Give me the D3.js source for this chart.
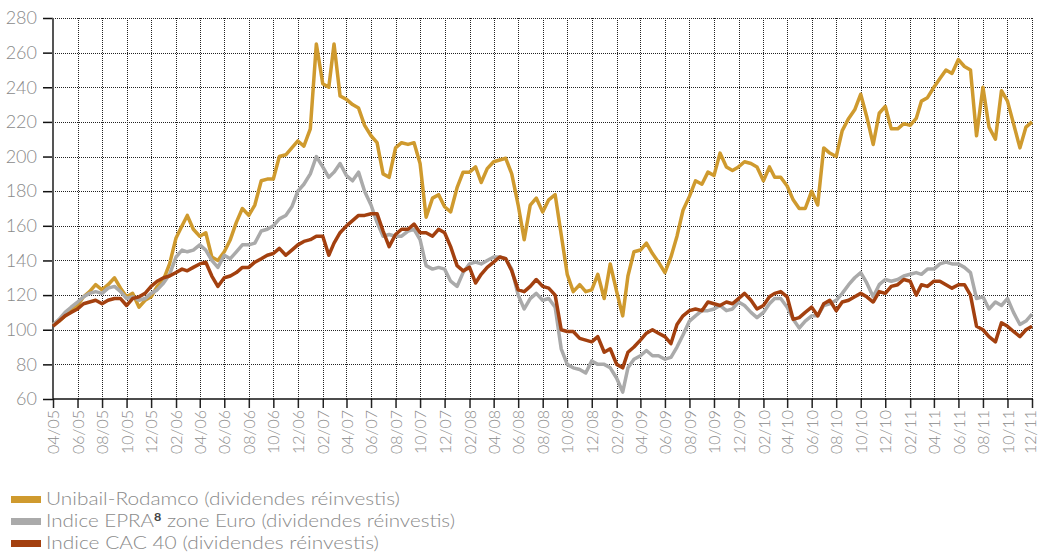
<!DOCTYPE html>
<html>
  <head>
    <meta charset="utf-8">
    <script src="https://d3js.org/d3.v7.min.js"></script>
    <style>
      body { margin: 0px; background: #fff; }
      .domain { display: none; }
      .tick text { fill: #8a8a8a; font-family: Lato, "DejaVu Sans", sans-serif; font-weight: 300; }
      .legend text { fill: #8a8a8a; font-family: Lato, "DejaVu Sans", sans-serif; font-weight: 300; font-size: 18px; }
    </style>
  </head>
  <body>
    <svg width="1038" height="553"></svg>
    <script>
      // half-month steps from 04/2005 to 12/2011
      const startMonth = new Date(2005, 3, 1);
      const endMonth = new Date(2011, 11, 1);
      const yTicks = [60, 80, 100, 120, 140, 160, 180, 200, 220, 240, 260, 280];

      const unibail = [
        103,105,108,111,114,119,122,126,123,126,130,124,119,121,113,117,119,125,129,138,153,160,166,158,154,156,142,140,145,152,162,170,
        166,172,186,187,187,200,201,205,209,206,216,265,242,240,265,235,233,230,228,218,212,208,190,188,205,208,207,208,196,165,176,
        178,171,168,182,191,191,194,185,193,197,198,199,190,172,152,172,176,168,175,178,155,132,122,126,122,123,132,118,138,122,108,
        131,145,146,150,144,139,133,142,154,169,177,186,184,191,189,202,194,192,194,197,196,194,186,194,188,188,183,175,170,170,180,
        172,205,202,200,215,222,227,236,223,207,225,229,216,216,219,218,222,232,234,240,245,250,248,256,252,250,212,240,217,210,238,232,219,205,217,220
      ];
      const epra = [
        103,106,110,113,116,119,121,122,121,124,125,122,118,119,117,118,121,123,127,132,142,146,145,146,149,146,140,136,143,141,145,149,
        149,150,157,158,160,164,166,171,180,184,190,200,194,188,191,196,189,186,191,180,172,162,154,155,154,154,157,158,152,137,135,
        136,135,128,125,133,138,139,138,140,142,142,141,135,120,112,118,121,117,118,113,89,80,78,77,75,82,80,80,78,72,64,
        78,83,85,88,85,85,83,84,90,97,105,108,111,111,112,114,111,112,116,114,110,107,110,115,118,118,113,106,101,105,108,
        108,114,115,117,121,126,130,133,127,119,126,129,128,129,131,132,133,132,135,135,138,139,138,138,136,133,118,119,112,116,114,118,110,103,105,109
      ];
      const cac = [
        102,105,108,110,112,115,116,117,115,117,118,118,114,118,119,121,125,128,130,131,133,135,134,136,138,139,131,125,130,131,133,136,
        136,139,141,143,144,147,143,146,149,151,152,154,154,143,150,156,160,163,166,166,167,167,157,148,155,158,158,161,156,156,154,
        158,156,148,137,134,136,127,132,136,139,142,141,134,123,122,125,129,125,124,120,100,99,99,95,94,93,96,87,89,80,78,
        87,90,94,98,100,98,96,92,103,108,111,112,111,116,115,114,116,115,118,121,117,112,114,119,121,122,119,106,107,110,113,
        108,115,117,111,116,117,119,121,119,116,122,121,125,126,129,128,120,126,125,128,128,126,124,126,126,120,102,100,96,93,104,102,99,96,100,102
      ];

      const seriesNames = [
        'Unibail-Rodamco (dividendes réinvestis)',
        'Indice EPRA',
        'Indice CAC 40 (dividendes réinvestis)'
      ];
      const seriesColors = ['#CF9A2E', '#AAAAAA', '#A3400F'];
      const seriesValues = [unibail, epra, cac];

      const dates = unibail.map((d, i) => new Date(2005, 3 + Math.floor(i / 2), i % 2 ? 16 : 1));

      const svg = d3.select('svg');
      const plotLeft = 53, plotRight = 1032, plotTop = 18, plotBottom = 399;

      const xScale = d3.scaleTime().domain([startMonth, endMonth]).range([plotLeft, plotRight]);
      const yScale = d3.scaleLinear().domain([60, 280]).range([plotBottom, plotTop]);

      const xTickDates = d3.timeMonth.range(startMonth, d3.timeMonth.offset(endMonth, 1), 2);

      // grid
      const grid = svg.append('g');
      grid.selectAll('.hgrid').data(yTicks.slice(1)).enter().append('line')
        .attr('x1', plotLeft).attr('x2', plotRight)
        .attr('y1', d => Math.round(yScale(d)) + 0.5).attr('y2', d => Math.round(yScale(d)) + 0.5)
        .attr('stroke', '#222').attr('stroke-dasharray', '1,1').attr('stroke-width', 1);
      grid.selectAll('.vgrid').data(xTickDates.slice(1)).enter().append('line')
        .attr('x1', d => Math.round(xScale(d)) + 0.5).attr('x2', d => Math.round(xScale(d)) + 0.5)
        .attr('y1', plotTop).attr('y2', plotBottom)
        .attr('stroke', '#222').attr('stroke-dasharray', '1,1').attr('stroke-width', 1);

      // axes
      const yAxis = d3.axisLeft(yScale).tickValues(yTicks).tickSize(10).tickPadding(6);
      const yAxisG = svg.append('g').attr('transform', `translate(${plotLeft},0)`).call(yAxis);
      yAxisG.selectAll('.tick line').attr('stroke', '#111').attr('stroke-width', 1.5);
      yAxisG.selectAll('.tick text').style('font-size', '18px');
      svg.append('line').attr('x1', plotLeft).attr('x2', plotLeft).attr('y1', plotTop).attr('y2', plotBottom)
        .attr('stroke', '#555').attr('stroke-width', 2);

      const xAxis = d3.axisBottom(xScale).tickValues(xTickDates).tickFormat(d3.timeFormat('%m/%y'))
        .tickSize(9).tickPadding(6);
      const xAxisG = svg.append('g').attr('transform', `translate(0,${plotBottom})`).call(xAxis);
      xAxisG.selectAll('.tick line').attr('stroke', '#222').attr('stroke-width', 1.5);
      xAxisG.selectAll('.tick text')
        .style('font-size', '16px')
        .attr('text-anchor', 'end')
        .attr('transform', 'rotate(-90)')
        .attr('textLength', 44).attr('lengthAdjust', 'spacingAndGlyphs')
        .attr('x', -11).attr('y', 0).attr('dy', (d, i) => i === xTickDates.length - 1 ? '0.2em' : '0.35em');
      svg.append('line').attr('x1', plotLeft).attr('x2', plotRight + 1).attr('y1', plotBottom).attr('y2', plotBottom)
        .attr('stroke', '#111').attr('stroke-width', 1.5);

      // lines
      const line = d3.line().x((d, i) => xScale(dates[i])).y(d => yScale(d));
      seriesValues.forEach((vals, k) => {
        svg.append('path').datum(vals)
          .attr('fill', 'none')
          .attr('stroke', seriesColors[k])
          .attr('stroke-width', 3.5)
          .attr('stroke-linejoin', 'round')
          .attr('d', line);
      });

      // legend
      const legendWidths = [354, 409, 333];
      const legend = svg.append('g').attr('class', 'legend');
      seriesNames.forEach((name, k) => {
        const y = 499 + k * 22;
        legend.append('rect').attr('x', 11).attr('y', y - 3).attr('width', 30).attr('height', 7)
          .attr('fill', seriesColors[k]);
        const t = legend.append('text').attr('x', 46).attr('y', y + 6)
          .attr('textLength', legendWidths[k]).attr('lengthAdjust', 'spacingAndGlyphs');
        if (k === 1) {
          t.append('tspan').text(name);
          t.append('tspan').text('8').attr('dy', -6).style('font-size', '11px').style('fill', '#444').style('font-weight', 700);
          t.append('tspan').text(' zone Euro (dividendes réinvestis)').attr('dy', 6);
        } else {
          t.text(name);
        }
      });
    </script>
  </body>
</html>
